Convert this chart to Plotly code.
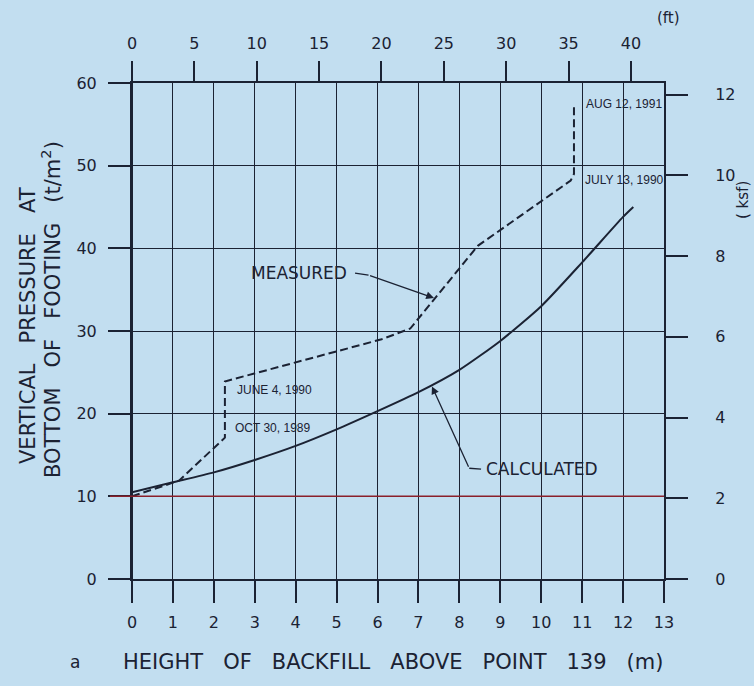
import plotly.graph_objects as go

# ---- data ----
calc_height_m = [0, 1, 2, 3, 4, 5, 6, 7, 8, 9, 10, 11, 12, 12.25]
calc_pressure = [10.5, 11.7, 12.9, 14.4, 16.1, 18.1, 20.3, 22.6, 25.3, 28.8, 33.0, 38.3, 43.8, 45.0]

meas_height_m = [0, 1.15, 2.27, 2.27, 6.1, 6.8, 8.45, 10.72, 10.8, 10.8]
meas_pressure = [10.0, 11.9, 17.1, 23.9, 29.0, 30.3, 40.3, 48.2, 49.0, 57.2]

x_ticks_m = list(range(0, 14))
y_ticks_t = [0, 10, 20, 30, 40, 50, 60]
top_ticks_ft = [0, 5, 10, 15, 20, 25, 30, 35, 40]
right_ticks_ksf = [0, 2, 4, 6, 8, 10, 12]

M_TO_FT = 3.28084
KSF_TO_TM2 = 4.8824

date_labels = ["JUNE 4, 1990", "OCT 30, 1989", "AUG 12, 1991", "JULY 13, 1990"]
date_x = [2.52, 2.48, 11.05, 11.03]
date_y = [22.85, 18.3, 57.5, 48.3]

BG = "#c2def0"
INK = "#1b2233"
FONT = "DejaVu Sans"
FONT_SMALL = "Liberation Sans"

L, T, PW, PH = 132, 83, 532.0, 496.0

fig = go.Figure()

fig.add_trace(go.Scatter(x=calc_height_m, y=calc_pressure, mode="lines",
                         line=dict(color=INK, width=2, shape="spline", smoothing=0.6),
                         showlegend=False, hoverinfo="skip"))
fig.add_trace(go.Scatter(x=meas_height_m, y=meas_pressure, mode="lines",
                         line=dict(color=INK, width=2, dash="8px,4px"),
                         showlegend=False, hoverinfo="skip"))
# invisible traces to activate the secondary axes
fig.add_trace(go.Scatter(x=[0, 13 * M_TO_FT], y=[None, None], xaxis="x2", yaxis="y",
                         showlegend=False, hoverinfo="skip"))
fig.add_trace(go.Scatter(x=[None, None], y=[0, 60 / KSF_TO_TM2], xaxis="x", yaxis="y2",
                         showlegend=False, hoverinfo="skip"))

tickfont = dict(family=FONT, size=16, color=INK)
axis_common = dict(ticks="outside", tickwidth=2, tickcolor=INK, showline=True,
                   linecolor=INK, linewidth=2, zeroline=False, tickfont=tickfont,
                   automargin=False)

fig.update_layout(
    width=754, height=686,
    margin=dict(l=L, r=754 - L - PW, t=T, b=686 - T - PH, autoexpand=False),
    paper_bgcolor=BG, plot_bgcolor=BG,
    xaxis=dict(range=[0, 13], tickvals=x_ticks_m, ticklen=22, showgrid=True,
               gridcolor=INK, gridwidth=1, ticklabelstandoff=6, **axis_common),
    xaxis2=dict(range=[0, 13 * M_TO_FT], tickvals=top_ticks_ft, overlaying="x", side="top",
                ticklen=20, showgrid=False, ticklabelstandoff=6, **axis_common),
    yaxis=dict(range=[0, 60], tickvals=y_ticks_t, ticklen=22, showgrid=True,
               gridcolor=INK, gridwidth=1, ticklabelstandoff=8, **axis_common),
    yaxis2=dict(range=[0, 60 / KSF_TO_TM2], tickvals=right_ticks_ksf, overlaying="y",
                side="right", ticklen=22, showgrid=False, ticklabelstandoff=24, **axis_common),
)

shapes = [
    # left axis line extends beyond the plot frame
    dict(type="line", xref="x", yref="paper", x0=0, x1=0, y0=-22 / PH, y1=1 + 21 / PH,
         line=dict(color=INK, width=2)),
    # red line at 10 t/m2
    dict(type="line", xref="paper", yref="y", x0=-22 / PW, x1=1, y0=10, y1=10,
         line=dict(color="#8a1f2a", width=1.5)),
    # leader stub for MEASURED
    dict(type="line", xref="x", yref="y", x0=5.45, y0=37.0, x1=5.78, y1=36.75,
         line=dict(color=INK, width=1.3)),
    # leader stub for CALCULATED
    dict(type="line", xref="x", yref="y", x0=8.53, y0=13.3, x1=8.24, y1=13.4,
         line=dict(color=INK, width=1.3)),
]
fig.update_layout(shapes=shapes)

for t, x, y in zip(date_labels, date_x, date_y):
    fig.add_annotation(x=x, y=y, xref="x", yref="y", text=t, showarrow=False,
                       xanchor="left", yanchor="middle",
                       font=dict(family=FONT_SMALL, size=12, color=INK))

fig.add_annotation(x=5.3, y=37.0, xref="x", yref="y", text="MEASURED", showarrow=False,
                   xanchor="right", yanchor="middle", font=dict(family=FONT, size=17, color=INK))
fig.add_annotation(x=7.38, y=34.0, ax=5.78, ay=36.75, axref="x", ayref="y", xref="x", yref="y",
                   text="", showarrow=True, arrowhead=2, arrowsize=1.2, arrowwidth=1.3,
                   arrowcolor=INK)
fig.add_annotation(x=8.6, y=13.3, xref="x", yref="y", text="CALCULATED", showarrow=False,
                   xanchor="left", yanchor="middle", font=dict(family=FONT, size=17, color=INK))
fig.add_annotation(x=7.33, y=23.3, ax=8.24, ay=13.4, axref="x", ayref="y", xref="x", yref="y",
                   text="", showarrow=True, arrowhead=2, arrowsize=1.2, arrowwidth=1.3,
                   arrowcolor=INK)


def px(xp, yp):
    return (xp - L) / PW, (T + PH - yp) / PH


def label(xp, yp, text, size, angle=0):
    x, y = px(xp, yp)
    fig.add_annotation(x=x, y=y, xref="paper", yref="paper", text=text, showarrow=False,
                       xanchor="center", yanchor="middle", textangle=angle,
                       font=dict(family=FONT, size=size, color=INK))


NB = "\u00a0"
label(28, 326, f"VERTICAL{NB*3}PRESSURE{NB*3}AT", 21, -90)
label(51, 310, f"BOTTOM{NB*3}OF{NB*3}FOOTING{NB*3}(t/m<sup>2</sup>)", 21, -90)
label(743, 200, f"({NB}ksf)", 15, -90)
label(668, 18, "(ft)", 15)
label(393, 662, f"HEIGHT{NB*3}OF{NB*3}BACKFILL{NB*3}ABOVE{NB*3}POINT{NB*3}139{NB*3}(m)", 21)
label(75, 662, "a", 17)

fig.write_html(
    "out.html",
    config={"displayModeBar": False},
    post_script="document.body.style.margin='0px';document.body.style.backgroundColor='" + BG + "';",
)
